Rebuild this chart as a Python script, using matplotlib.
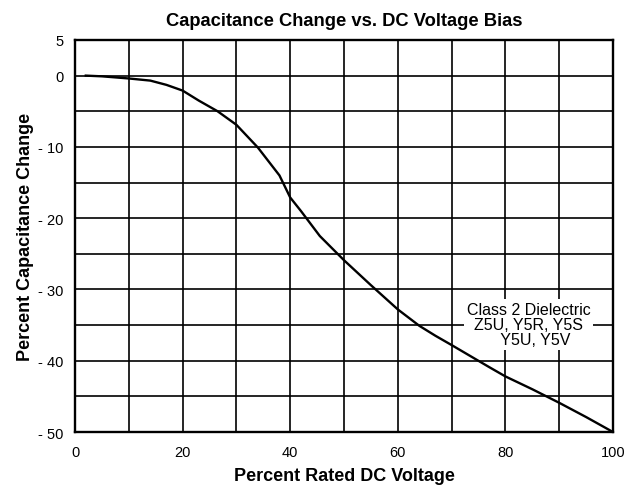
import numpy as np
import matplotlib
matplotlib.use("Agg")
from matplotlib import pyplot as plt

plt.rcParams['font.family'] = ['Liberation Sans', 'DejaVu Sans']

# curve
voltage = [2, 5, 10, 14, 17, 20, 23, 26.5, 30, 34, 38, 40, 42, 45.5, 50, 55, 60, 64, 67, 70,
           77, 80, 85, 90, 95, 100]
cap_change = [0, -0.1, -0.4, -0.7, -1.3, -2.1, -3.5, -5.0, -6.9, -10.1, -14.0, -17.1, -19.0, -22.5,
              -25.9, -29.4, -32.8, -35.1, -36.5, -37.8, -40.9, -42.2, -44.0, -45.9, -47.9, -50.0]

x_ticks = [0, 20, 40, 60, 80, 100]
y_ticks = [5, 0, -10, -20, -30, -40, -50]
y_tick_labels = ['5', '0', '- 10', '- 20', '- 30', '- 40', '- 50']

fig = plt.figure(figsize=(6.39, 4.89), dpi=100)
ax = fig.add_axes([0.1174, 0.1145, 0.8419, 0.8017])

ax.plot(voltage, cap_change, color='black', lw=1.7, zorder=4, solid_joinstyle='round')

ax.set_xlim(0, 100)
ax.set_ylim(-50, 5)
ax.set_xticks(x_ticks)
ax.set_xticks(np.arange(0, 101, 10), minor=True)
ax.set_yticks(y_ticks)
ax.set_yticklabels(y_tick_labels)
ax.set_yticks(np.arange(-50, 6, 5), minor=True)
ax.grid(which='both', color='black', lw=1.2, zorder=1)
ax.set_axisbelow(True)
ax.tick_params(which='both', length=0, labelsize=10.5)
ax.tick_params(axis='y', pad=8.5)
ax.tick_params(axis='x', pad=9)
for s in ax.spines.values():
    s.set_linewidth(1.7)

ax.text(84.3, -34.9, 'Class 2 Dielectric\nZ5U, Y5R, Y5S\n   Y5U, Y5V', ha='center', va='center',
        fontsize=11.5, linespacing=1.0, zorder=3,
        bbox=dict(facecolor='white', edgecolor='none', pad=2))

ax.set_title('Capacitance Change vs. DC Voltage Bias', fontsize=13.2, fontweight='bold', pad=10.5)
ax.set_xlabel('Percent Rated DC Voltage', fontsize=13, fontweight='bold', labelpad=6)
ax.set_ylabel('Percent Capacitance Change', fontsize=13, fontweight='bold', labelpad=3)

plt.savefig('out.png', dpi=100)
